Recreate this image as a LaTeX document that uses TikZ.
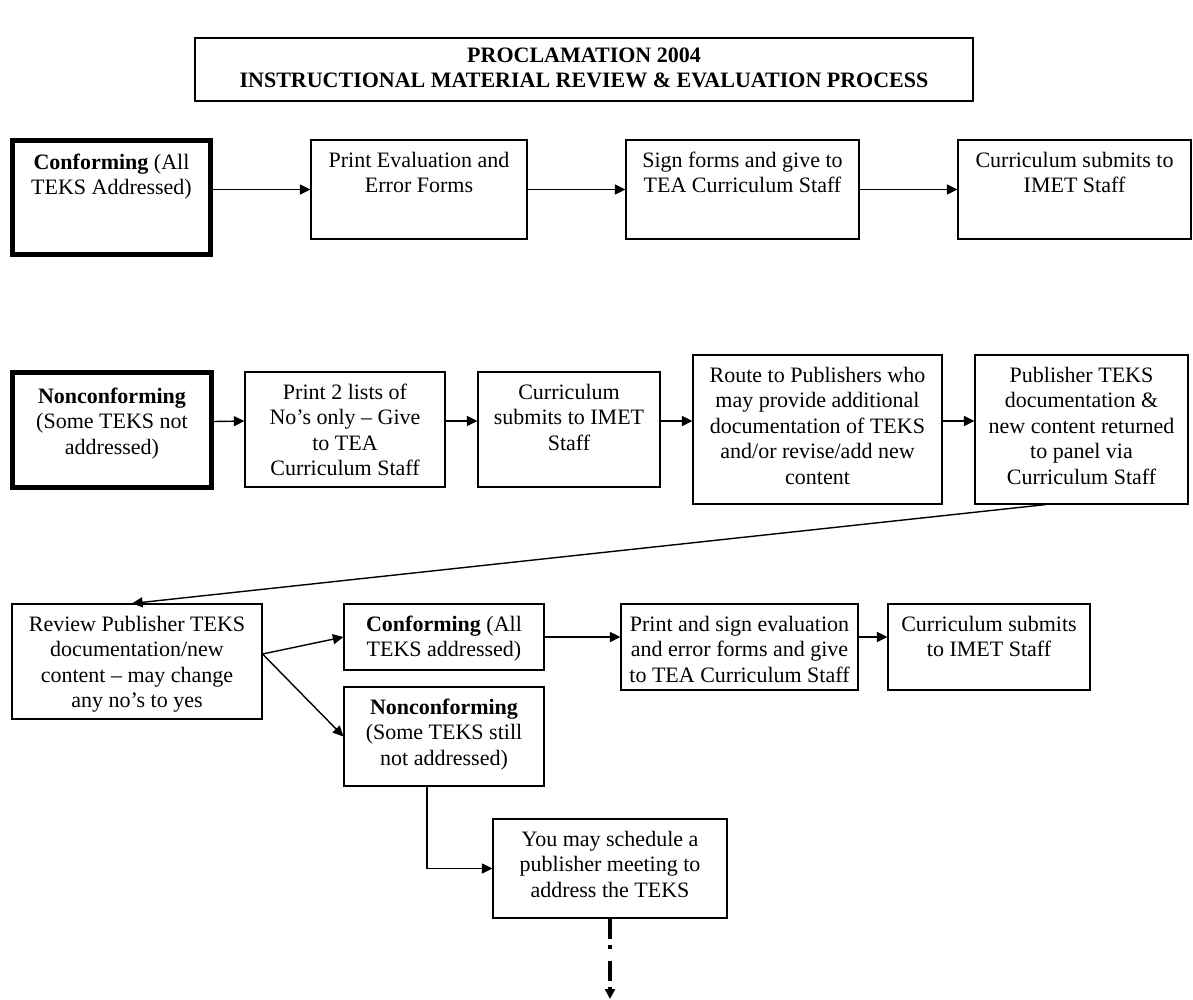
\documentclass[tikz,border=0pt]{standalone}
\usepackage{fontspec}
\setmainfont{Liberation Serif}
\usetikzlibrary{arrows.meta}
\newcommand\toppad{4.8pt}
\newcommand\flowbox[7][]{%
  \pgfmathsetmacro\fbw{(#5-#3)*0.5}%
  \pgfmathsetmacro\fbh{(#6-#4)*0.5}%
  \node[box,#1] (#2) at ({(#3+#5)/2},{(#4+#6)/2})
    {\parbox[c][\fbh pt][t]{\fbw pt}{\centering\vspace*{\toppad}\strut#7\par}};}
\tikzset{
  box/.style={draw, line width=0.55pt, inner sep=0pt, font=\fontsize{11}{12.75}\selectfont},
  thickbox/.style={line width=2.3pt},
  arr/.style={line width=0.7pt, -{Triangle[length=5.3pt,width=5pt]}},
  dashdotarr/.style={line width=2pt, dash pattern=on 10pt off 3pt on 2pt off 6pt,
     -{Triangle[length=5pt,width=5pt]}}
}
\begin{document}
\begin{tikzpicture}[x=0.5pt,y=-0.5pt]
\useasboundingbox (0,0) rectangle (1193,1000);
% title
\flowbox[execute at begin node={\renewcommand\toppad{3.1pt}}]{title}{195}{38}{973}{101}{\textbf{PROCLAMATION 2004}\\\textbf{INSTRUCTIONAL MATERIAL REVIEW \& EVALUATION PROCESS}}
% row 1
\flowbox[thickbox,execute at begin node={\renewcommand\toppad{5.5pt}}]{c1}{12.3}{140.3}{210.7}{254.7}{\textbf{Conforming} (All\\TEKS Addressed)}
\flowbox{p1}{311}{140}{527}{239}{Print Evaluation and\\Error Forms}
\flowbox{s1}{626}{140}{859}{239}{Sign forms and give to\\TEA Curriculum Staff}
\flowbox{m1}{958}{140}{1191}{239}{Curriculum submits to\\IMET Staff}
% row 2
\flowbox[thickbox,execute at begin node={\renewcommand\toppad{6.5pt}}]{n2}{12.3}{372.3}{211.7}{487.7}{\textbf{Nonconforming}\\(Some TEKS not\\addressed)}
\flowbox{p2}{245}{372}{445}{487}{Print 2 lists of\\No’s only – Give\\to TEA\\Curriculum Staff}
\flowbox{m2}{478}{372}{660}{487}{Curriculum\\submits to IMET\\Staff}
\flowbox{r2}{693}{355}{942}{504}{Route to Publishers who\\may provide additional\\documentation of TEKS\\and/or revise/add new\\content}
\flowbox{u2}{975}{355}{1188}{504}{Publisher TEKS\\documentation \&\\new content returned\\to panel via\\Curriculum Staff}
% row 3
\flowbox{rv}{12}{604}{262}{719}{Review Publisher TEKS\\documentation/new\\content – may change\\any no’s to yes}
\flowbox{c3}{344}{604}{544}{670}{\textbf{Conforming} (All\\TEKS addressed)}
\flowbox{n3}{344}{687}{544}{786}{\textbf{Nonconforming}\\(Some TEKS still\\not addressed)}
\flowbox{ps}{621}{604}{858}{690}{Print and sign evaluation\\and error forms and give\\to TEA Curriculum Staff}
\flowbox{m3}{888}{604}{1090}{690}{Curriculum submits\\to IMET Staff}
\flowbox{sch}{493}{819}{727}{918}{You may schedule a\\publisher meeting to\\address the TEKS}
\coordinate (endpt) at (610,999);
% connectors row 1
\draw[arr] (p1.west -| c1.east) -- (p1.west);
\draw[arr] (p1.east) -- (s1.west);
\draw[arr] (s1.east) -- (m1.west);
% connectors row 2
\draw[arr] ([yshift=4.25pt]n2.east) -- ([yshift=4.25pt]p2.west);
\draw[arr] ([yshift=4.25pt]p2.east) -- ([yshift=4.25pt]m2.west);
\draw[arr] ([yshift=4.25pt]m2.east) -- ([yshift=4.25pt]r2.west);
\draw[arr] ([yshift=4.25pt]r2.east) -- ([yshift=4.25pt]u2.west);
% long return arrow
\draw[arr] ([xshift=-17.75pt]u2.south) -- ([xshift=-2.5pt]rv.north);
% row 3
\draw[arr] ([yshift=3.75pt]rv.east) -- (c3.west);
\draw[arr] ([yshift=3.75pt]rv.east) -- (n3.west);
\draw[arr] (c3.east) -- (c3.east -| ps.west);
\draw[arr] (ps.east |- c3.east) -- (m3.west |- c3.east);
\draw[arr] ([xshift=-8.5pt]n3.south) |- (sch.west);
\draw[dashdotarr] (sch.south) -- (endpt);
\end{tikzpicture}
\end{document}
